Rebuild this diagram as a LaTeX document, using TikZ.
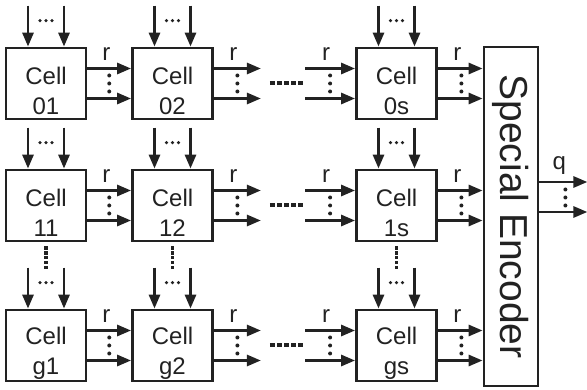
\documentclass[tikz,border=0pt]{standalone}
\usepackage{fontspec}
\setmainfont{Liberation Sans}
\usepackage{graphicx}
\usetikzlibrary{arrows.meta, positioning, calc}
\definecolor{ink}{HTML}{222222}

\begin{document}
\begin{tikzpicture}[
    x=1pt, y=-1pt,
    every path/.style={color=ink},
    every node/.style={text=ink},
    cellbox/.style={draw, line width=2.8pt, minimum width=80pt, minimum height=71pt, inner sep=0pt},
    celltext/.style={align=center, inner sep=0pt, font=\fontsize{24}{30}\selectfont},
    lab/.style={inner sep=0pt, font=\fontsize{24}{24}\selectfont},
    arr/.style={line width=2.8pt, -{Triangle[length=14pt, width=11pt]}},
    sqdots/.style={line width=4pt, dash pattern=on 4.6pt off 2.5pt},
    vsqdots/.style={line width=3.5pt, dash pattern=on 3.2pt off 1.75pt}
]
    \useasboundingbox (0,0) rectangle (587,390);

    % cells of row 0
    \node[cellbox] (c01) at (46,83.5) {};
    \node[cellbox] (c02) at (172.5,83.5) {};
    \node[cellbox] (c0s) at (396.5,83.5) {};
    \node[celltext] (t01) at ([yshift=-7.5pt]c01.center) {Cell\\01};
    \node[celltext] (t02) at ([yshift=-7.5pt]c02.center) {Cell\\02};
    \node[celltext] (t0s) at ([yshift=-7.5pt]c0s.center) {Cell\\0s};

    % cells of row 1
    \node[cellbox] (c11) at (46,205.5) {};
    \node[cellbox] (c12) at (172.5,205.5) {};
    \node[cellbox] (c1s) at (396.5,205.5) {};
    \node[celltext] (t11) at ([yshift=-7.5pt]c11.center) {Cell\\11};
    \node[celltext] (t12) at ([yshift=-7.5pt]c12.center) {Cell\\12};
    \node[celltext] (t1s) at ([yshift=-7.5pt]c1s.center) {Cell\\1s};

    % cells of row g
    \node[cellbox] (cg1) at (46,345.5) {};
    \node[cellbox] (cg2) at (172.5,345.5) {};
    \node[cellbox] (cgs) at (396.5,345.5) {};
    \node[celltext] (tg1) at ([yshift=-7.5pt]cg1.center) {Cell\\g1};
    \node[celltext] (tg2) at ([yshift=-7.5pt]cg2.center) {Cell\\g2};
    \node[celltext] (tgs) at ([yshift=-7.5pt]cgs.center) {Cell\\gs};

    % encoder
    \node[draw, line width=2.8pt, minimum width=54pt, minimum height=339pt, inner sep=0pt] (enc) at (511,216.5)
        {\rotatebox{-90}{\fontsize{39}{39}\selectfont Special Encoder}};

    % inputs from above
    \foreach \c in {c01,c02,c0s,c11,c12,c1s,cg1,cg2,cgs} {
        \draw[arr] ([shift={(-18pt,41pt)}]\c.north) -- ([xshift=-18pt]\c.north);
        \draw[arr] ([shift={(18pt,41pt)}]\c.north) -- ([xshift=18pt]\c.north);
        \foreach \d in {-6,0,6}
            \fill ([shift={(\d pt,26pt)}]\c.north) circle (1.8pt);
    }

    % links along each row
    \foreach \a/\b/\s in {c01/c02/c0s, c11/c12/c1s, cg1/cg2/cgs} {
        \draw[arr] ([yshift=15pt]\a.east) -- ([yshift=15pt]\b.west);
        \draw[arr] ([yshift=-15pt]\a.east) -- ([yshift=-15pt]\b.west);
        \draw[arr] ([yshift=15pt]\b.east) -- ++(47,0);
        \draw[arr] ([yshift=-15pt]\b.east) -- ++(47,0);
        \draw[arr] ([shift={(-50pt,15pt)}]\s.west) -- ([yshift=15pt]\s.west);
        \draw[arr] ([shift={(-50pt,-15pt)}]\s.west) -- ([yshift=-15pt]\s.west);
        \draw[arr] ([yshift=15pt]\s.east) -- ([yshift=15pt]\s.east -| enc.west);
        \draw[arr] ([yshift=-15pt]\s.east) -- ([yshift=-15pt]\s.east -| enc.west);
        % r labels
        \node[lab] (r\a) at ([shift={(-3pt,29pt)}]$(\a.east)!0.5!(\b.west)$) {r};
        \node[lab] (r\b) at ([shift={(19.5pt,29pt)}]\b.east) {r};
        \node[lab] (q\s) at ([shift={(-29pt,29pt)}]\s.west) {r};
        \node[lab] (r\s) at ([shift={(19.5pt,29pt)}]\s.east) {r};
        % bus dots
        \foreach \d in {-8,0,8} {
            \fill ([yshift=\d pt]$(\a.east)!0.5!(\b.west)$) circle (2pt);
            \fill ([shift={(23.5pt,\d pt)}]\b.east) circle (2pt);
            \fill ([shift={(-25pt,\d pt)}]\s.west) circle (2pt);
            \fill ([shift={(23.5pt,\d pt)}]\s.east) circle (2pt);
        }
        \draw[sqdots] ([xshift=56pt]\b.east) -- ([xshift=89pt]\b.east);
    }

    % rows between 1 and g
    \foreach \c in {c11,c12,c1s} {
        \draw[vsqdots] ([yshift=-4pt]\c.south) -- ([yshift=-27pt]\c.south);
    }

    % encoder output
    \draw[arr] ([yshift=34.5pt]enc.east) -- ++(48,0);
    \draw[arr] ([yshift=4.5pt]enc.east) -- ++(48,0);
    \node[lab] (q) at ([shift={(20pt,51pt)}]enc.east) {q};
    \foreach \d in {27,19,11}
        \fill ([shift={(26pt,\d pt)}]enc.east) circle (2pt);
\end{tikzpicture}
\end{document}
